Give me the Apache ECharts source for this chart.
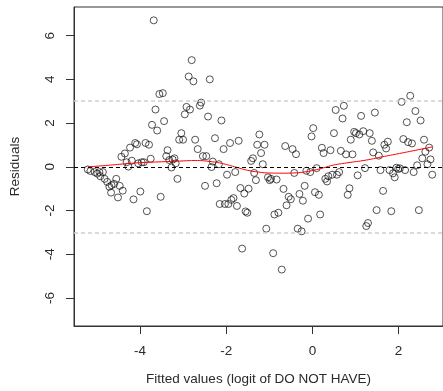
<!DOCTYPE html>
<html>
<head>
<meta charset="utf-8">
<script src="https://cdn.jsdelivr.net/npm/echarts@6/dist/echarts.min.js"></script>
<style>html,body{margin:0;padding:0;background:#fff}#c{width:443px;height:391px}</style>
</head>
<body>
<div id="c"></div>
<script>
const fittedX = [-5.21,-5.15,-5.05,-4.99,-4.94,-4.92,-4.86,-4.82,-4.76,-4.71,-4.66,-4.67,-4.60,-4.55,-4.51,-4.47,-4.40,-4.43,-4.35,-4.31,-4.27,-4.23,-4.19,-4.15,-4.11,-4.07,-4.04,-3.99,-3.96,-3.91,-3.87,-3.84,-3.79,-3.75,-3.72,-3.68,-3.64,-3.60,-3.55,-3.52,-3.47,-3.44,-3.39,-3.36,-3.32,-3.27,-3.24,-3.20,-3.17,-3.13,-3.09,-3.04,-3.00,-2.96,-2.92,-2.87,-2.84,-2.80,-2.76,-2.72,-2.66,-2.61,-2.58,-2.54,-2.49,-2.46,-2.42,-2.38,-2.34,-2.31,-2.26,-2.22,-2.17,-2.15,-2.11,-2.06,-2.03,-1.98,-1.95,-1.91,-1.88,-1.83,-1.79,-1.75,-1.71,-1.67,-1.63,-1.58,-1.55,-1.51,-1.48,-1.42,-1.38,-1.35,-1.31,-1.28,-1.23,-1.19,-1.15,-1.11,-1.07,-1.03,-0.99,-0.96,-0.91,-0.88,-0.83,-0.79,-0.71,-0.67,-0.63,-0.60,-0.55,-0.50,-0.46,-0.42,-0.38,-0.34,-0.30,-0.25,-0.22,-0.18,-0.14,-0.10,-0.05,-0.02,0.02,0.06,0.10,0.15,0.18,0.22,0.26,0.30,0.34,0.37,0.42,0.46,0.50,0.54,0.57,0.62,0.66,0.70,0.73,0.78,0.82,0.86,0.89,0.93,0.97,1.01,1.05,1.09,1.13,1.18,1.22,1.25,1.29,1.33,1.38,1.41,1.45,1.49,1.54,1.58,1.64,1.67,1.71,1.75,1.79,1.83,1.87,1.91,1.95,1.99,2.03,2.07,2.11,2.15,2.19,2.22,2.27,2.31,2.35,2.39,2.43,2.47,2.51,2.55,2.59,2.62,2.67,2.71,2.74,2.78];
const residuals = [-0.12,-0.19,-0.24,-0.31,-0.24,-0.43,-0.24,-0.55,-0.69,-0.91,-0.84,-1.18,-0.78,-0.55,-1.40,-0.87,-1.09,0.46,0.61,0.21,0.01,0.88,0.28,-1.49,1.09,1.03,0.16,-1.13,0.21,0.21,1.09,-2.03,1.01,0.37,1.92,6.70,2.62,1.66,3.33,-1.37,3.37,2.09,0.49,0.76,0.31,-0.03,0.33,0.39,0.16,-0.55,1.24,1.54,1.24,2.40,2.74,4.13,2.62,4.88,3.91,1.24,0.81,2.80,2.94,0.49,-0.87,0.49,2.30,4.00,-0.01,0.24,1.31,-0.75,0.12,-1.70,2.12,0.81,-1.70,-0.36,-1.70,1.09,-1.51,-1.43,-0.24,-1.79,1.19,-0.97,-3.74,-1.22,-2.04,-2.10,-1.00,0.27,0.39,-0.28,-0.61,1.01,1.48,0.63,0.12,1.01,-2.83,-0.48,-0.61,-0.55,-3.95,-2.18,-0.58,-2.10,-4.70,-1.01,0.95,-1.76,-1.37,-1.48,0.81,-0.28,0.58,-2.83,-1.24,-2.95,-1.55,-0.87,-0.18,-2.37,-0.24,1.39,1.77,-1.16,-0.06,-1.28,-2.18,0.87,0.63,-0.55,-0.67,-0.43,0.76,-0.36,1.54,2.60,-0.36,-0.24,0.73,2.21,2.79,0.57,-1.28,-0.98,1.24,0.57,1.60,1.54,-0.39,1.48,2.33,1.63,-0.06,-2.71,-2.57,1.54,1.19,0.66,2.48,-1.98,0.51,-0.15,-1.10,1.01,0.84,1.15,-0.15,-2.03,-0.30,-0.48,-0.04,-0.10,-0.07,2.97,1.27,-0.15,2.04,1.13,3.25,1.07,-0.24,2.55,0.07,-1.98,2.12,0.39,1.24,0.69,0.12,0.88,0.34,-0.36];
const smoothX = [-5.21,-4.8,-4.4,-3.98,-3.5,-3.0,-2.72,-2.4,-2.11,-1.8,-1.5,-1.25,-1.04,-0.7,-0.43,-0.2,0.03,0.25,0.49,0.8,1.25,1.6,2.02,2.4,2.78];
const smoothY = [0.0,0.06,0.13,0.19,0.23,0.27,0.29,0.25,0.16,0.0,-0.16,-0.24,-0.28,-0.29,-0.28,-0.24,-0.16,-0.05,0.08,0.18,0.31,0.45,0.61,0.76,0.91];
const refLines = [0, 3, -3];
const xTicks = [-4, -2, 0, 2];
const yTicks = [-6, -4, -2, 0, 2, 4, 6];

const chart = echarts.init(document.getElementById('c'), null, {renderer: 'canvas'});
const font = 'Liberation Sans, Arial, sans-serif';
const axisColor = '#333';
const textColor = '#2a2a2a';
chart.setOption({
  animation: false,
  backgroundColor: '#fff',
  grid: {left: 71, top: 7, right: -2, bottom: 58, show: true, borderColor: axisColor, borderWidth: 1, backgroundColor: 'transparent'},
  xAxis: {
    type: 'value', min: -5.53, max: 3.03,
    name: 'Fitted values (logit of DO NOT HAVE)', nameLocation: 'middle', nameGap: 46,
    nameTextStyle: {fontFamily: font, fontSize: 13.5, color: textColor},
    axisLine: {show: true, onZero: false, lineStyle: {color: axisColor}},
    axisTick: {show: true, length: 8, lineStyle: {color: axisColor}, customValues: xTicks},
    axisLabel: {fontFamily: font, fontSize: 13.5, color: textColor, margin: 18, customValues: xTicks},
    splitLine: {show: false}
  },
  yAxis: {
    type: 'value', min: -7.28, max: 7.31,
    name: 'Residuals', nameLocation: 'middle', nameGap: 52, nameRotate: 90,
    nameTextStyle: {fontFamily: font, fontSize: 13.5, color: textColor},
    axisLine: {show: true, onZero: false, lineStyle: {color: axisColor}},
    axisTick: {show: true, length: 8, lineStyle: {color: axisColor}, customValues: yTicks},
    axisLabel: {fontFamily: font, fontSize: 13.5, color: textColor, margin: 17, rotate: 90, customValues: yTicks},
    splitLine: {show: false}
  },
  series: [
    {
      type: 'line', data: [], silent: true,
      markLine: {
        silent: true, symbol: 'none', label: {show: false},
        data: refLines.map(v => ({yAxis: v, lineStyle: v === 0 ? {color: '#000', type: [4, 3], width: 1} : {color: '#d0d0d0', type: [4, 3], width: 1.5}}))
      }
    },
    {
      type: 'scatter', symbol: 'circle', symbolSize: 7,
      itemStyle: {color: 'rgba(0,0,0,0)', borderColor: '#111', borderWidth: 0.9},
      data: fittedX.map((x, i) => [x, residuals[i]])
    },
    {
      type: 'line', smooth: true, symbol: 'none',
      lineStyle: {color: '#ff0000', width: 1},
      data: smoothX.map((x, i) => [x, smoothY[i]])
    }
  ]
});
</script>
</body>
</html>
